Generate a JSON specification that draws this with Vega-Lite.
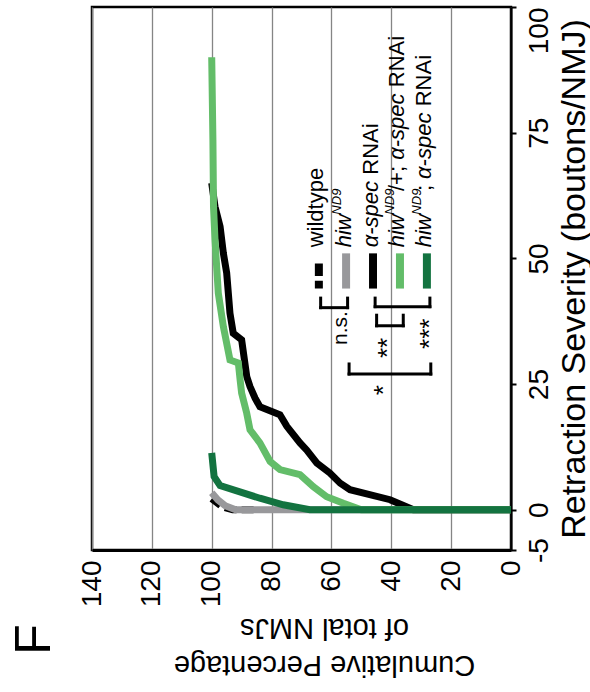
{
  "$schema": "https://vega.github.io/schema/vega-lite/v6.json",
  "width": 419,
  "height": 543,
  "autosize": {"type": "none"},
  "padding": {"left": 92, "top": 7, "right": 79, "bottom": 142},
  "background": "white",
  "config": {
    "view": {"stroke": "black", "strokeWidth": 2.5},
    "text": {"font": "Liberation Sans", "color": "black"},
    "axis": {"labelFont": "Liberation Sans", "titleFont": "Liberation Sans", "labelColor": "black", "titleColor": "black", "titleFontWeight": "normal"}
  },
  "datasets": {
    "curves": [
      {"genotype": "wildtype", "pct": 86, "sev": 0},
      {"genotype": "wildtype", "pct": 93, "sev": 0},
      {"genotype": "wildtype", "pct": 96.5, "sev": 0.6},
      {"genotype": "wildtype", "pct": 100, "sev": 2.2},
      {"genotype": "hiw", "pct": 0, "sev": 0},
      {"genotype": "hiw", "pct": 92, "sev": 0},
      {"genotype": "hiw", "pct": 95.5, "sev": 0.8},
      {"genotype": "hiw", "pct": 98, "sev": 2},
      {"genotype": "hiw", "pct": 100, "sev": 3.4},
      {"genotype": "aspec", "pct": 0, "sev": 0},
      {"genotype": "aspec", "pct": 32.6, "sev": 0},
      {"genotype": "aspec", "pct": 40.4, "sev": 2.0},
      {"genotype": "aspec", "pct": 53.8, "sev": 4.0},
      {"genotype": "aspec", "pct": 57.1, "sev": 5.3},
      {"genotype": "aspec", "pct": 60.5, "sev": 7.3},
      {"genotype": "aspec", "pct": 64.9, "sev": 9.3},
      {"genotype": "aspec", "pct": 68.3, "sev": 11.9},
      {"genotype": "aspec", "pct": 70.5, "sev": 13.3},
      {"genotype": "aspec", "pct": 74.9, "sev": 16.6},
      {"genotype": "aspec", "pct": 77.2, "sev": 18.9},
      {"genotype": "aspec", "pct": 83.9, "sev": 20.5},
      {"genotype": "aspec", "pct": 85.5, "sev": 22.2},
      {"genotype": "aspec", "pct": 87.2, "sev": 24.5},
      {"genotype": "aspec", "pct": 88.3, "sev": 26.5},
      {"genotype": "aspec", "pct": 90.0, "sev": 33.8},
      {"genotype": "aspec", "pct": 92.8, "sev": 35.1},
      {"genotype": "aspec", "pct": 93.9, "sev": 39.1},
      {"genotype": "aspec", "pct": 95.0, "sev": 47.1},
      {"genotype": "aspec", "pct": 96.1, "sev": 51.0},
      {"genotype": "aspec", "pct": 97.2, "sev": 56.3},
      {"genotype": "aspec", "pct": 98.9, "sev": 60.3},
      {"genotype": "aspec", "pct": 100, "sev": 65},
      {"genotype": "hiwplus", "pct": 0, "sev": 0},
      {"genotype": "hiwplus", "pct": 50, "sev": 0},
      {"genotype": "hiwplus", "pct": 56, "sev": 1.3},
      {"genotype": "hiwplus", "pct": 61.6, "sev": 2.6},
      {"genotype": "hiwplus", "pct": 66.1, "sev": 4.6},
      {"genotype": "hiwplus", "pct": 70.5, "sev": 7.0},
      {"genotype": "hiwplus", "pct": 77.2, "sev": 8.0},
      {"genotype": "hiwplus", "pct": 80.5, "sev": 9.6},
      {"genotype": "hiwplus", "pct": 83.9, "sev": 13.3},
      {"genotype": "hiwplus", "pct": 87.2, "sev": 15.9},
      {"genotype": "hiwplus", "pct": 88.3, "sev": 19.2},
      {"genotype": "hiwplus", "pct": 90.0, "sev": 23.2},
      {"genotype": "hiwplus", "pct": 90.5, "sev": 25.8},
      {"genotype": "hiwplus", "pct": 91.1, "sev": 29.2},
      {"genotype": "hiwplus", "pct": 93.9, "sev": 29.8},
      {"genotype": "hiwplus", "pct": 96.1, "sev": 36.4},
      {"genotype": "hiwplus", "pct": 97.8, "sev": 43.1},
      {"genotype": "hiwplus", "pct": 98.9, "sev": 53.7},
      {"genotype": "hiwplus", "pct": 99.4, "sev": 60.3},
      {"genotype": "hiwplus", "pct": 99.6, "sev": 73.6},
      {"genotype": "hiwplus", "pct": 100, "sev": 90},
      {"genotype": "hiwaspec", "pct": 0, "sev": 0},
      {"genotype": "hiwaspec", "pct": 67.2, "sev": 0},
      {"genotype": "hiwaspec", "pct": 76.1, "sev": 1.0},
      {"genotype": "hiwaspec", "pct": 83.9, "sev": 2.3},
      {"genotype": "hiwaspec", "pct": 97.2, "sev": 4.8},
      {"genotype": "hiwaspec", "pct": 99.2, "sev": 6.6},
      {"genotype": "hiwaspec", "pct": 100, "sev": 11.3}
    ]
  },
  "layer": [
    {
      "data": {"name": "curves"},
      "transform": [{"filter": {"field": "genotype", "equal": "wildtype"}}],
      "mark": {"type": "line", "color": "black", "strokeWidth": 7, "strokeDash": [12, 5], "strokeCap": "butt"},
      "encoding": {
        "x": {
          "field": "pct", "type": "quantitative",
          "scale": {"domain": [0, 140], "reverse": true, "nice": false, "zero": false},
          "axis": {
            "values": [0, 20, 40, 60, 80, 100, 120, 140],
            "grid": true, "gridColor": "#858585", "gridWidth": 1.3,
            "ticks": false, "domainColor": "black", "domainWidth": 3,
            "labelAngle": -90, "labelAlign": "right", "labelBaseline": "middle",
            "labelFontSize": 28, "labelPadding": 10,
            "labelOverlap": false, "labelFlush": false, "labelBound": false,
            "title": ["Cumulative Percentage", "of total NMJs"],
            "titleFontSize": 29, "titleAngle": 180, "titleBaseline": "bottom", "titleAlign": "center",
            "titleLineHeight": 37, "titlePadding": 43, "titleX": 232
          }
        },
        "y": {
          "field": "sev", "type": "quantitative",
          "scale": {"domain": [-8, 100], "nice": false, "zero": false},
          "axis": {
            "orient": "right",
            "values": [-8, 0, 25, 50, 75, 100],
            "labelExpr": "datum.value == -8 ? '-5' : datum.label",
            "grid": false, "tickSize": 5, "tickWidth": 2, "tickColor": "black",
            "domainColor": "black", "domainWidth": 2,
            "labelAngle": -90,
            "labelAlign": {"condition": {"test": "datum.value == 100", "value": "right"}, "value": "center"},
            "labelBaseline": "top", "labelFontSize": 28, "labelPadding": 9,
            "labelOverlap": false, "labelFlush": false, "labelBound": false,
            "title": "Retraction Severity (boutons/NMJ)",
            "titleFontSize": 34, "titleAngle": -90, "titleBaseline": "top", "titleAlign": "center", "titlePadding": 4
          }
        },
        "order": {"value": null}
      }
    },
    {
      "data": {"name": "curves"},
      "transform": [{"filter": {"field": "genotype", "equal": "hiw"}}],
      "mark": {"type": "line", "color": "#98989b", "strokeWidth": 7, "strokeCap": "butt"},
      "encoding": {
        "x": {"field": "pct", "type": "quantitative"},
        "y": {"field": "sev", "type": "quantitative"},
        "order": {"value": null}
      }
    },
    {
      "data": {"name": "curves"},
      "transform": [{"filter": {"field": "genotype", "equal": "aspec"}}],
      "mark": {"type": "line", "color": "black", "strokeWidth": 7, "strokeCap": "butt"},
      "encoding": {
        "x": {"field": "pct", "type": "quantitative"},
        "y": {"field": "sev", "type": "quantitative"},
        "order": {"value": null}
      }
    },
    {
      "data": {"name": "curves"},
      "transform": [{"filter": {"field": "genotype", "equal": "hiwplus"}}],
      "mark": {"type": "line", "color": "#63bd69", "strokeWidth": 7, "strokeCap": "butt"},
      "encoding": {
        "x": {"field": "pct", "type": "quantitative"},
        "y": {"field": "sev", "type": "quantitative"},
        "order": {"value": null}
      }
    },
    {
      "data": {"name": "curves"},
      "transform": [{"filter": {"field": "genotype", "equal": "hiwaspec"}}],
      "mark": {"type": "line", "color": "#137340", "strokeWidth": 7, "strokeCap": "butt"},
      "encoding": {
        "x": {"field": "pct", "type": "quantitative"},
        "y": {"field": "sev", "type": "quantitative"},
        "order": {"value": null}
      }
    },
    {"data": {"values": [{"g": "wildtype"}]}, "mark": {"type": "rule", "color": "black", "strokeWidth": 8, "strokeCap": "butt", "strokeDash": [12.7, 4.7]},
     "encoding": {"x": {"datum": 64.2, "type": "quantitative"}, "y": {"datum": 49.0, "type": "quantitative"}, "y2": {"datum": 44.0}}},
    {"data": {"values": [{"g": "hiw"}]}, "mark": {"type": "rule", "color": "#98989b", "strokeWidth": 8, "strokeCap": "butt"},
     "encoding": {"x": {"datum": 55.1, "type": "quantitative"}, "y": {"datum": 51.0, "type": "quantitative"}, "y2": {"datum": 44.0}}},
    {"data": {"values": [{"g": "aspec"}]}, "mark": {"type": "rule", "color": "black", "strokeWidth": 8, "strokeCap": "butt"},
     "encoding": {"x": {"datum": 46.1, "type": "quantitative"}, "y": {"datum": 51.0, "type": "quantitative"}, "y2": {"datum": 44.0}}},
    {"data": {"values": [{"g": "hiwplus"}]}, "mark": {"type": "rule", "color": "#63bd69", "strokeWidth": 8, "strokeCap": "butt"},
     "encoding": {"x": {"datum": 37.1, "type": "quantitative"}, "y": {"datum": 51.0, "type": "quantitative"}, "y2": {"datum": 44.0}}},
    {"data": {"values": [{"g": "hiwaspec"}]}, "mark": {"type": "rule", "color": "#137340", "strokeWidth": 8, "strokeCap": "butt"},
     "encoding": {"x": {"datum": 28.1, "type": "quantitative"}, "y": {"datum": 51.0, "type": "quantitative"}, "y2": {"datum": 44.0}}},

    {"data": {"values": [{"t": "wildtype"}]}, "mark": {"type": "text", "angle": -90, "align": "left", "baseline": "alphabetic", "fontSize": 22},
     "encoding": {"x": {"datum": 62.7, "type": "quantitative"}, "y": {"datum": 52.2, "type": "quantitative"}, "text": {"field": "t"}}},

    {"data": {"values": [{"t": "hiw"}]}, "mark": {"type": "text", "angle": -90, "align": "left", "baseline": "alphabetic", "fontSize": 22, "fontStyle": "italic"},
     "encoding": {"x": {"datum": 53.6, "type": "quantitative"}, "y": {"datum": 52.2, "type": "quantitative"}, "text": {"field": "t"}}},
    {"data": {"values": [{"t": "ND9"}]}, "mark": {"type": "text", "angle": -90, "align": "left", "baseline": "alphabetic", "fontSize": 13, "fontStyle": "italic", "dy": -10},
     "encoding": {"x": {"datum": 53.6, "type": "quantitative"}, "y": {"datum": 58.7, "type": "quantitative"}, "text": {"field": "t"}}},

    {"data": {"values": [{"t": "α-spec"}]}, "mark": {"type": "text", "angle": -90, "align": "left", "baseline": "alphabetic", "fontSize": 22, "fontStyle": "italic"},
     "encoding": {"x": {"datum": 44.6, "type": "quantitative"}, "y": {"datum": 52.2, "type": "quantitative"}, "text": {"field": "t"}}},
    {"data": {"values": [{"t": "RNAi"}]}, "mark": {"type": "text", "angle": -90, "align": "left", "baseline": "alphabetic", "fontSize": 22},
     "encoding": {"x": {"datum": 44.6, "type": "quantitative"}, "y": {"datum": 66.65, "type": "quantitative"}, "text": {"field": "t"}}},

    {"data": {"values": [{"t": "hiw"}]}, "mark": {"type": "text", "angle": -90, "align": "left", "baseline": "alphabetic", "fontSize": 22, "fontStyle": "italic"},
     "encoding": {"x": {"datum": 35.6, "type": "quantitative"}, "y": {"datum": 52.2, "type": "quantitative"}, "text": {"field": "t"}}},
    {"data": {"values": [{"t": "ND9"}]}, "mark": {"type": "text", "angle": -90, "align": "left", "baseline": "alphabetic", "fontSize": 13, "fontStyle": "italic", "dy": -10},
     "encoding": {"x": {"datum": 35.6, "type": "quantitative"}, "y": {"datum": 58.7, "type": "quantitative"}, "text": {"field": "t"}}},
    {"data": {"values": [{"t": "/+;"}]}, "mark": {"type": "text", "angle": -90, "align": "left", "baseline": "alphabetic", "fontSize": 22},
     "encoding": {"x": {"datum": 35.6, "type": "quantitative"}, "y": {"datum": 63.4, "type": "quantitative"}, "text": {"field": "t"}}},
    {"data": {"values": [{"t": "α-spec"}]}, "mark": {"type": "text", "angle": -90, "align": "left", "baseline": "alphabetic", "fontSize": 22, "fontStyle": "italic"},
     "encoding": {"x": {"datum": 35.6, "type": "quantitative"}, "y": {"datum": 69.6, "type": "quantitative"}, "text": {"field": "t"}}},
    {"data": {"values": [{"t": "RNAi"}]}, "mark": {"type": "text", "angle": -90, "align": "left", "baseline": "alphabetic", "fontSize": 22},
     "encoding": {"x": {"datum": 35.6, "type": "quantitative"}, "y": {"datum": 84.05, "type": "quantitative"}, "text": {"field": "t"}}},

    {"data": {"values": [{"t": "hiw"}]}, "mark": {"type": "text", "angle": -90, "align": "left", "baseline": "alphabetic", "fontSize": 22, "fontStyle": "italic"},
     "encoding": {"x": {"datum": 26.6, "type": "quantitative"}, "y": {"datum": 52.2, "type": "quantitative"}, "text": {"field": "t"}}},
    {"data": {"values": [{"t": "ND9"}]}, "mark": {"type": "text", "angle": -90, "align": "left", "baseline": "alphabetic", "fontSize": 13, "fontStyle": "italic", "dy": -10},
     "encoding": {"x": {"datum": 26.6, "type": "quantitative"}, "y": {"datum": 58.7, "type": "quantitative"}, "text": {"field": "t"}}},
    {"data": {"values": [{"t": ";"}]}, "mark": {"type": "text", "angle": -90, "align": "left", "baseline": "alphabetic", "fontSize": 22},
     "encoding": {"x": {"datum": 26.6, "type": "quantitative"}, "y": {"datum": 63.4, "type": "quantitative"}, "text": {"field": "t"}}},
    {"data": {"values": [{"t": "α-spec"}]}, "mark": {"type": "text", "angle": -90, "align": "left", "baseline": "alphabetic", "fontSize": 22, "fontStyle": "italic"},
     "encoding": {"x": {"datum": 26.6, "type": "quantitative"}, "y": {"datum": 65.8, "type": "quantitative"}, "text": {"field": "t"}}},
    {"data": {"values": [{"t": "RNAi"}]}, "mark": {"type": "text", "angle": -90, "align": "left", "baseline": "alphabetic", "fontSize": 22},
     "encoding": {"x": {"datum": 26.6, "type": "quantitative"}, "y": {"datum": 80.25, "type": "quantitative"}, "text": {"field": "t"}}},

    {"data": {"values": [{"pair": "wildtype vs hiw"}]}, "mark": {"type": "rule", "color": "black", "strokeWidth": 3, "strokeCap": "square"},
     "encoding": {"x": {"datum": 63.6, "type": "quantitative"}, "x2": {"datum": 54.6}, "y": {"datum": 40.2, "type": "quantitative"}}},
    {"data": {"values": [{"pair": "wildtype vs hiw"}]}, "mark": {"type": "rule", "color": "black", "strokeWidth": 3, "strokeCap": "square"},
     "encoding": {"x": {"datum": 63.6, "type": "quantitative"}, "y": {"datum": 40.2, "type": "quantitative"}, "y2": {"datum": 42.1}}},
    {"data": {"values": [{"pair": "wildtype vs hiw"}]}, "mark": {"type": "rule", "color": "black", "strokeWidth": 3, "strokeCap": "square"},
     "encoding": {"x": {"datum": 54.6, "type": "quantitative"}, "y": {"datum": 40.2, "type": "quantitative"}, "y2": {"datum": 42.1}}},

    {"data": {"values": [{"pair": "aspec vs hiwplus"}]}, "mark": {"type": "rule", "color": "black", "strokeWidth": 3, "strokeCap": "square"},
     "encoding": {"x": {"datum": 44.9, "type": "quantitative"}, "x2": {"datum": 36.0}, "y": {"datum": 36.6, "type": "quantitative"}}},
    {"data": {"values": [{"pair": "aspec vs hiwplus"}]}, "mark": {"type": "rule", "color": "black", "strokeWidth": 3, "strokeCap": "square"},
     "encoding": {"x": {"datum": 44.9, "type": "quantitative"}, "y": {"datum": 36.6, "type": "quantitative"}, "y2": {"datum": 38.7}}},
    {"data": {"values": [{"pair": "aspec vs hiwplus"}]}, "mark": {"type": "rule", "color": "black", "strokeWidth": 3, "strokeCap": "square"},
     "encoding": {"x": {"datum": 36.0, "type": "quantitative"}, "y": {"datum": 36.6, "type": "quantitative"}, "y2": {"datum": 38.7}}},

    {"data": {"values": [{"pair": "aspec vs hiwaspec"}]}, "mark": {"type": "rule", "color": "black", "strokeWidth": 3, "strokeCap": "square"},
     "encoding": {"x": {"datum": 45.4, "type": "quantitative"}, "x2": {"datum": 27.1}, "y": {"datum": 40.4, "type": "quantitative"}}},
    {"data": {"values": [{"pair": "aspec vs hiwaspec"}]}, "mark": {"type": "rule", "color": "black", "strokeWidth": 3, "strokeCap": "square"},
     "encoding": {"x": {"datum": 45.4, "type": "quantitative"}, "y": {"datum": 40.4, "type": "quantitative"}, "y2": {"datum": 42.1}}},
    {"data": {"values": [{"pair": "aspec vs hiwaspec"}]}, "mark": {"type": "rule", "color": "black", "strokeWidth": 3, "strokeCap": "square"},
     "encoding": {"x": {"datum": 27.1, "type": "quantitative"}, "y": {"datum": 40.4, "type": "quantitative"}, "y2": {"datum": 42.1}}},

    {"data": {"values": [{"pair": "hiw vs hiwaspec"}]}, "mark": {"type": "rule", "color": "black", "strokeWidth": 3, "strokeCap": "square"},
     "encoding": {"x": {"datum": 54.1, "type": "quantitative"}, "x2": {"datum": 26.8}, "y": {"datum": 27.0, "type": "quantitative"}}},
    {"data": {"values": [{"pair": "hiw vs hiwaspec"}]}, "mark": {"type": "rule", "color": "black", "strokeWidth": 3, "strokeCap": "square"},
     "encoding": {"x": {"datum": 54.1, "type": "quantitative"}, "y": {"datum": 27.0, "type": "quantitative"}, "y2": {"datum": 29.0}}},
    {"data": {"values": [{"pair": "hiw vs hiwaspec"}]}, "mark": {"type": "rule", "color": "black", "strokeWidth": 3, "strokeCap": "square"},
     "encoding": {"x": {"datum": 26.8, "type": "quantitative"}, "y": {"datum": 27.0, "type": "quantitative"}, "y2": {"datum": 29.0}}},

    {"data": {"values": [{"t": "n.s."}]}, "mark": {"type": "text", "angle": -90, "align": "center", "baseline": "alphabetic", "fontSize": 21},
     "encoding": {"x": {"datum": 54.8, "type": "quantitative"}, "y": {"datum": 36.15, "type": "quantitative"}, "text": {"field": "t"}}},
    {"data": {"values": [{"t": "**"}]}, "mark": {"type": "text", "angle": -90, "align": "center", "baseline": "alphabetic", "fontSize": 26},
     "encoding": {"x": {"datum": 38.5, "type": "quantitative"}, "y": {"datum": 32.2, "type": "quantitative"}, "text": {"field": "t"}}},
    {"data": {"values": [{"t": "***"}]}, "mark": {"type": "text", "angle": -90, "align": "center", "baseline": "alphabetic", "fontSize": 26},
     "encoding": {"x": {"datum": 24.5, "type": "quantitative"}, "y": {"datum": 35.0, "type": "quantitative"}, "text": {"field": "t"}}},
    {"data": {"values": [{"t": "*"}]}, "mark": {"type": "text", "angle": -90, "align": "center", "baseline": "alphabetic", "fontSize": 26},
     "encoding": {"x": {"datum": 39.7, "type": "quantitative"}, "y": {"datum": 23.8, "type": "quantitative"}, "text": {"field": "t"}}},

    {"data": {"values": [{"t": "F"}]}, "mark": {"type": "text", "angle": -90, "align": "center", "baseline": "middle", "fontSize": 50},
     "encoding": {"x": {"datum": 159.2, "type": "quantitative"}, "y": {"datum": -25.8, "type": "quantitative"}, "text": {"field": "t"}}}
  ]
}
